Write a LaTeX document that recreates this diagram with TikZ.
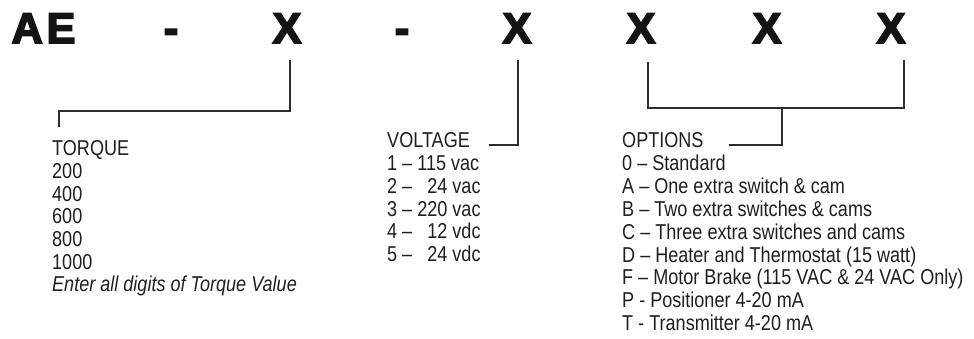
\documentclass[tikz,border=0pt]{standalone}
\usepackage{fontspec}
\setmainfont{Liberation Sans}[FakeStretch=0.84]
\newfontfamily\codefont{Liberation Sans}[BoldFeatures={FakeBold=4}]
\tikzset{
  code/.style={anchor=base, inner sep=0pt, font=\codefont\bfseries\fontsize{43}{43}\selectfont, text=black!92},
  row/.style={anchor=base west, inner sep=0pt, font=\fontsize{21.5}{24}\selectfont, text=black!88},
  lead/.style={draw=black!82, line width=2pt}
}
\begin{document}
\begin{tikzpicture}[x=1pt, y=-1pt]
  \useasboundingbox (0,0) rectangle (974,339);
  % model code
  \node[code] (ae) at (43.5,43) {A\kern4pt E};
  \node[code] (d1) at (171,43) {-};
  \node[code] (x1) at (287,43) {X};
  \node[code] (d2) at (402,43) {-};
  \node[code] (x2) at (517,43) {X};
  \node[code] (x3) at (641,43) {X};
  \node[code] (x4) at (767,43) {X};
  \node[code] (x5) at (891,43) {X};
  % TORQUE
  \foreach \txt [count=\i from 0] in {TORQUE,200,400,600,800,1000}
    \node[row] (t\i) at (52,{156+22.6*\i}) {\txt};
  \node[row, font=\fontsize{21.5}{24}\selectfont\itshape] (t6) at (52,{156+22.6*6}) {Enter all digits of Torque Value};
  % VOLTAGE
  \foreach \txt [count=\i from 0] in {VOLTAGE,{1 – 115 vac},{2 – \hphantom{1}24 vac},{3 – 220 vac},{4 – \hphantom{1}12 vdc},{5 – \hphantom{1}24 vdc}}
    \node[row] (v\i) at (387,{148+22.7*\i}) {\txt};
  % OPTIONS
  \foreach \txt [count=\i from 0] in {OPTIONS,{0 – Standard},{A – One extra switch \& cam},{B – Two extra switches \& cams},{C – Three extra switches and cams},{D – Heater and Thermostat (15 watt)},{F – Motor Brake (115 VAC \& 24 VAC Only)},{P - Positioner 4-20 mA},{T - Transmitter 4-20 mA}}
    \node[row] (o\i) at (622,{148+22.8*\i}) {\txt};
  % leads
  \coordinate (x1 foot) at ([xshift=3pt,yshift=-17pt]x1.base);
  \coordinate (tq knee) at (59,111);
  \coordinate (tq end) at (59,127);
  \draw[lead] (x1 foot) |- (tq knee) -- (tq end);
  \coordinate (x2 foot) at ([xshift=1pt,yshift=-17pt]x2.base);
  \draw[lead] (x2 foot) |- ([xshift=19pt]v0.mid east);
  \coordinate (x3 foot) at ([xshift=7pt,yshift=-19pt]x3.base);
  \coordinate (x5 foot) at ([xshift=13pt,yshift=-17pt]x5.base);
  \coordinate (op knee) at (782,108);
  \draw[lead] (x3 foot) |- (op knee) -| (x5 foot);
  \draw[lead] (op knee) |- ([xshift=25pt]o0.mid east);
\end{tikzpicture}
\end{document}
